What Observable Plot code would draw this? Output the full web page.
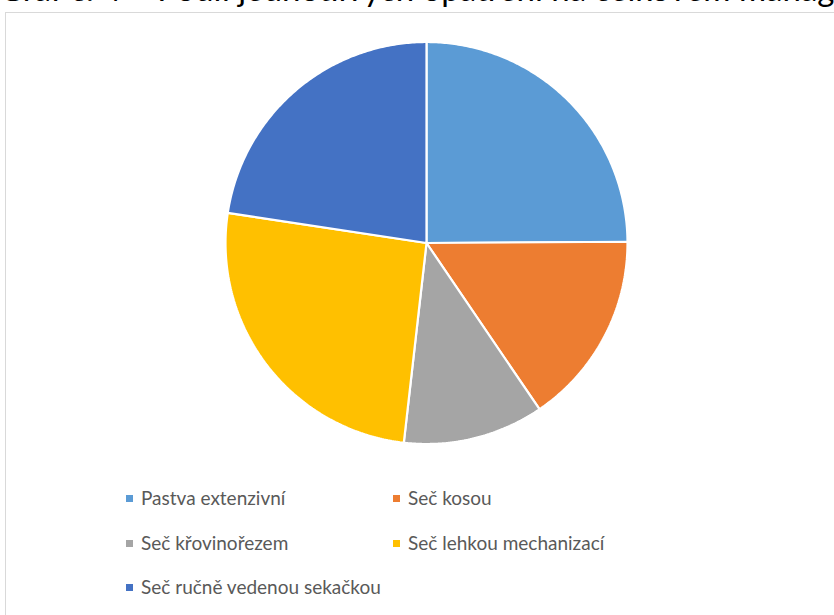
<!DOCTYPE html>
<html>
<head>
<meta charset="utf-8">
<script src="https://cdn.jsdelivr.net/npm/d3@7"></script>
<script src="https://cdn.jsdelivr.net/npm/@observablehq/plot@0.6"></script>
<style>
  html, body { margin: 0; padding: 0; background: #fff; overflow: hidden; }
  body { width: 834px; height: 615px; position: relative; font-family: Lato, "Open Sans", sans-serif; }
  #title { position: absolute; left: -1px; top: -28px; font-size: 33px; line-height: 33px; white-space: nowrap; color: #000; }
  #frame { position: absolute; left: 5px; top: 12px; width: 900px; height: 700px; border: 1.5px solid #d9d9d9; box-sizing: border-box; }
  #chart { position: absolute; left: 0; top: 0; }
  #legend { position: absolute; left: 0; top: 0; font-size: 19px; color: #595959; }
  .item { position: absolute; white-space: nowrap; line-height: 20px; }
  .sw { position: absolute; width: 7px; height: 7px; }
</style>
</head>
<body>
<div id="title"></div>
<div id="frame"></div>
<div id="chart"></div>
<div id="legend"></div>
<script>
const title = "Graf č. 4 – Podíl jednotlivých opatření na celkovém managementu";
const categories = ["Pastva extenzivní", "Seč kosou", "Seč křovinořezem", "Seč lehkou mechanizací", "Seč ručně vedenou sekačkou"];
const values = [24.9, 15.6, 11.3, 25.6, 22.6];
const colors = ["#5B9BD5", "#ED7D31", "#A5A5A5", "#FFC000", "#4472C4"];

document.getElementById("title").textContent = title;

const arcs = d3.pie().sort(null).value(d => d)(values);
const pts = [];
arcs.forEach((a, i) => {
  const cat = categories[i];
  pts.push({cat, x: 0, y: 0});
  const n = Math.max(2, Math.ceil((a.endAngle - a.startAngle) / 0.01));
  for (let k = 0; k <= n; k++) {
    const t = a.startAngle + (a.endAngle - a.startAngle) * k / n;
    pts.push({cat, x: Math.sin(t), y: Math.cos(t)});
  }
  pts.push({cat, x: 0, y: 0});
});

const chart = Plot.plot({
  width: 834,
  height: 460,
  marginLeft: 225,
  marginRight: 207,
  marginTop: 41.5,
  marginBottom: 16.5,
  x: {domain: [-1, 1], axis: null},
  y: {domain: [-1, 1], axis: null},
  color: {domain: categories, range: colors},
  style: {background: "transparent"},
  marks: [
    Plot.line(pts, {x: "x", y: "y", z: "cat", fill: "cat", stroke: "white", strokeWidth: 2.2, strokeLinejoin: "miter", curve: "linear"})
  ]
});
document.getElementById("chart").appendChild(chart);

const legend = document.getElementById("legend");
const pos = [[126, 499], [393, 499], [126, 544], [393, 544], [126, 588]];
categories.forEach((c, i) => {
  const [x, y] = pos[i];
  const sw = document.createElement("div");
  sw.className = "sw";
  sw.style.left = x + "px";
  sw.style.top = (y - 4) + "px";
  sw.style.background = colors[i];
  legend.appendChild(sw);
  const t = document.createElement("div");
  t.className = "item";
  t.style.left = (x + 15) + "px";
  t.style.top = (y - 11) + "px";
  t.textContent = c;
  legend.appendChild(t);
});
</script>
</body>
</html>
